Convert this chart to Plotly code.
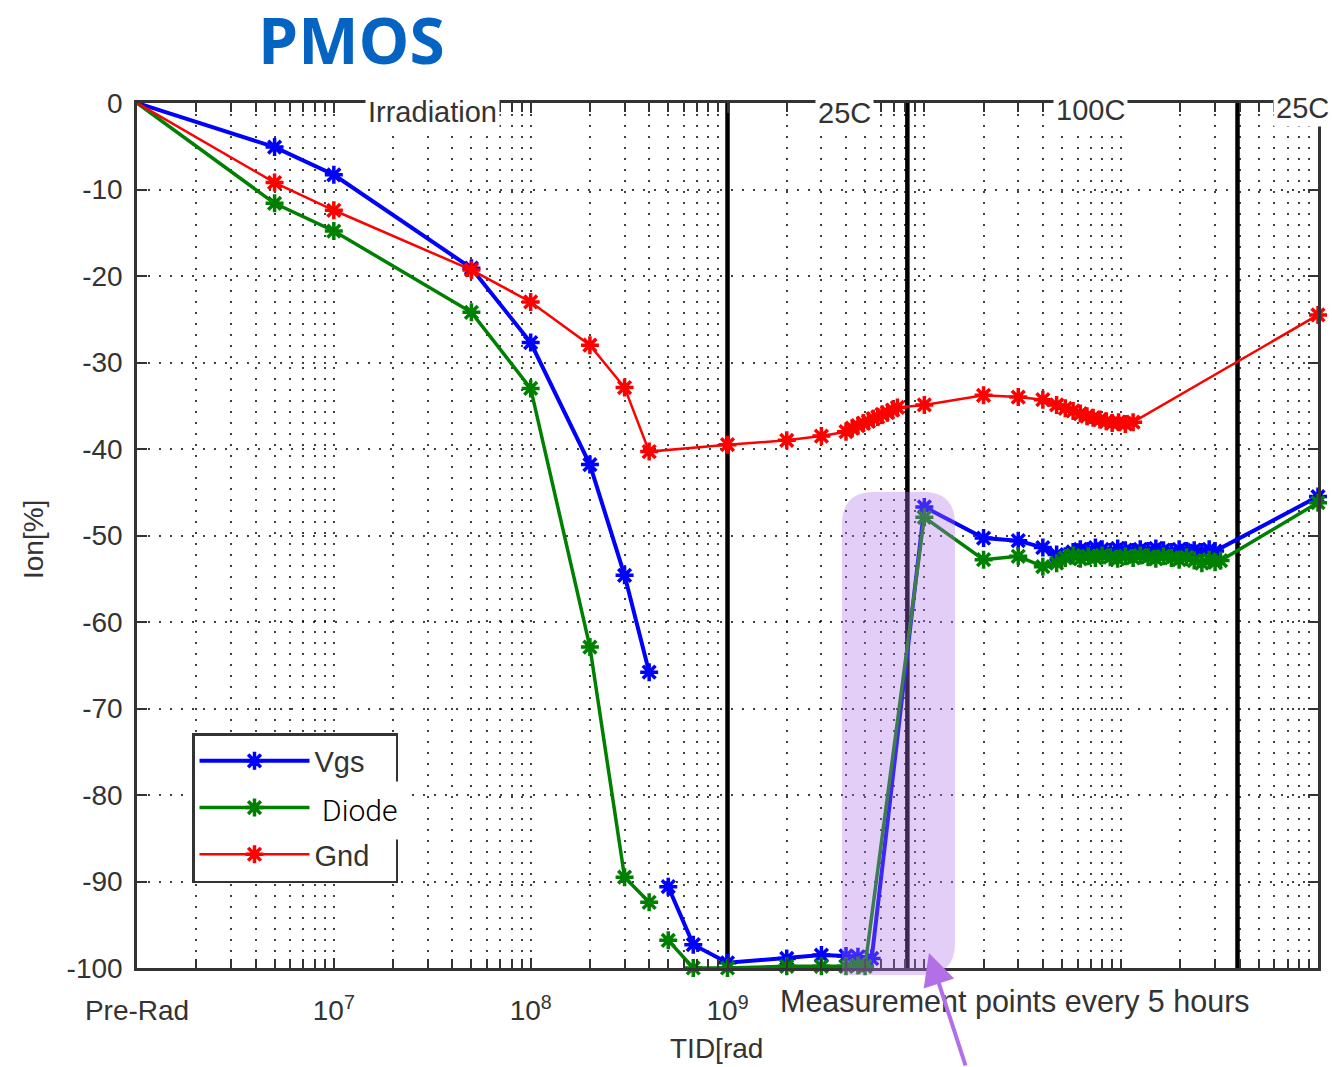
import plotly.graph_objects as go

# ---------------- data ----------------
vgs_x = [1e6, 5e6, 1e7, 5e7, 1e8, 2e8, 3e8, 4e8, None, 5e8, 6.7e8, 1e9,
         2e9, 3e9, 4e9, 4.6e9, 5.4e9,
         1e10, 2e10, 3e10, 4e10,
         4.7e10, 5.2e10, 5.7e10, 6.2e10, 6.8e10, 7.4e10, 8e10, 8.8e10, 9.6e10,
         1.05e11, 1.15e11, 1.25e11, 1.37e11, 1.5e11, 1.64e11, 1.8e11, 1.97e11,
         2.15e11, 2.35e11, 2.57e11, 2.8e11, 3e11,
         1e12]
vgs_y = [0, -5.1, -8.3, -19.1, -27.7, -41.8, -54.6, -65.8, None, -90.6, -97.3, -99.4,
         -98.9, -98.5, -98.6, -98.7, -98.9,
         -46.7, -50.3, -50.6, -51.4,
         -52.2, -52.4, -51.9, -51.6, -51.8, -51.4, -51.6, -51.9, -51.5,
         -51.7, -51.9, -51.6, -51.8, -51.5, -51.7, -51.9, -51.6,
         -51.8, -51.7, -51.9, -51.6, -51.8,
         -45.5]

diode_x = [1e6, 5e6, 1e7, 5e7, 1e8, 2e8, 3e8, 4e8, None, 5e8, 6.7e8, 1e9,
           2e9, 3e9, 4e9, 4.6e9, 5e9,
           1e10, 2e10, 3e10, 4e10,
           4.7e10, 5.2e10, 5.7e10, 6.2e10, 6.8e10, 7.4e10, 8e10, 8.8e10, 9.6e10,
           1.05e11, 1.15e11, 1.25e11, 1.37e11, 1.5e11, 1.64e11, 1.8e11, 1.97e11,
           2.15e11, 2.35e11, 2.57e11, 2.8e11, 3e11, 3.2e11,
           1e12]
diode_y = [0, -11.6, -14.8, -24.2, -33.0, -62.9, -89.5, -92.4, None, -96.8, -100, -100,
           -99.8, -99.8, -99.8, -99.7, -99.8,
           -47.9, -52.8, -52.4, -53.6,
           -53.2, -52.6, -52.3, -52.7, -52.4, -52.6, -52.3, -52.5, -52.7,
           -52.4, -52.6, -52.3, -52.5, -52.7, -52.4, -52.6, -52.8,
           -52.5, -52.9, -53.2, -52.8, -53.1, -52.9,
           -46.2]

gnd_x = [1e6, 5e6, 1e7, 5e7, 1e8, 2e8, 3e8, 4e8, 1e9,
         2e9, 3e9, 4e9, 4.3e9, 4.6e9, 4.9e9, 5.2e9, 5.5e9, 5.8e9, 6.1e9, 6.5e9, 6.9e9, 7.3e9,
         1e10, 2e10, 3e10, 4e10,
         4.7e10, 5.2e10, 5.7e10, 6.2e10, 6.7e10, 7.2e10, 7.8e10, 8.4e10, 9e10, 9.7e10, 1.05e11, 1.15e11,
         1e12]
gnd_y = [0, -9.2, -12.4, -19.3, -23.0, -28.0, -32.9, -40.3, -39.5,
         -39.0, -38.5, -38.0, -37.6, -37.3, -37.0, -36.8, -36.5, -36.3, -36.0, -35.8, -35.5, -35.2,
         -34.9, -33.8, -34.0, -34.3,
         -34.9, -35.3, -35.6, -35.9, -36.2, -36.4, -36.6, -36.8, -37.0, -36.9, -37.1, -36.9,
         -24.5]

phase_bounds = [1e9, 8.2e9, 3.9e11]
phase_labels = ["Irradiation", "25C", "100C", "25C"]

x_tickvals = [1e6, 1e7, 1e8, 1e9]
x_ticktext = ["Pre-Rad", "10<sup>7</sup>", "10<sup>8</sup>", "10<sup>9</sup>"]
y_tickvals = [0, -10, -20, -30, -40, -50, -60, -70, -80, -90, -100]
y_ticktext = ["0", "-10", "-20", "-30", "-40", "-50", "-60", "-70", "-80", "-90", "-100"]

minor_x = [k * 10 ** e for e in range(6, 12) for k in range(2, 10)] + [1e10, 1e11]

# ---------------- figure ----------------
W, H = 1332, 1067
L, R, T, B = 137, 14, 103, 99
PW, PH = W - L - R, H - T - B


def px(xp):
    return (xp - L) / PW


def py(yp):
    return (H - B - yp) / PH


AXFONT = "Liberation Sans"
TXT = "#333"
fig = go.Figure()

# phase boundary lines
bx, by = [], []
for b in phase_bounds:
    bx += [b, b, None]
    by += [-100, 0, None]
fig.add_trace(go.Scatter(x=bx, y=by, mode="lines", line=dict(color="black", width=4.5),
                         showlegend=False, hoverinfo="skip"))

series = [
    ("Vgs", vgs_x, vgs_y, "#0000FF", 4),
    ("Diode", diode_x, diode_y, "#008000", 3.5),
    ("Gnd", gnd_x, gnd_y, "#FF0000", 2.5),
]
for name, xs, ys, col, lw in series:
    fig.add_trace(go.Scatter(
        x=xs, y=ys, name=name, mode="lines+markers",
        line=dict(color=col, width=lw),
        marker=dict(symbol="asterisk-open", size=15, color=col, line=dict(color=col, width=3.5)),
        cliponaxis=False, legendgroup=name,
    ))

grid = dict(gridcolor="rgba(0,0,0,0.75)", gridwidth=1.5, griddash="2px,9px")

fig.update_xaxes(
    type="log", range=[6, 12],
    tickmode="array", tickvals=x_tickvals, ticktext=x_ticktext,
    ticks="inside", ticklen=10, tickwidth=1.5, tickcolor=TXT,
    showline=True, linecolor=TXT, linewidth=2.5, mirror="ticks",
    showgrid=True, **grid,
    tickfont=dict(family=AXFONT, size=28, color=TXT),
    ticklabelstandoff=16,
    minor=dict(tickmode="array", tickvals=minor_x, ticks="inside", ticklen=9,
               tickwidth=1.5, tickcolor=TXT, showgrid=True, **grid),
    zeroline=False,
)
fig.update_yaxes(
    range=[-100, 0], tickmode="array", tickvals=y_tickvals, ticktext=y_ticktext,
    ticks="inside", ticklen=10, tickwidth=1.5, tickcolor=TXT,
    showline=True, linecolor=TXT, linewidth=2.5, mirror="ticks",
    showgrid=True, **grid,
    tickfont=dict(family=AXFONT, size=28, color=TXT),
    ticklabelstandoff=6, zeroline=False,
)


def note(text, xp, yp, size=28, family=AXFONT, color=TXT, **kw):
    d = dict(text=text, x=px(xp), y=py(yp), xref="paper", yref="paper",
             xanchor="center", yanchor="middle", showarrow=False,
             font=dict(family=family, size=size, color=color))
    d.update(kw)
    return d


annotations = []
annotations.append(note("<b>PMOS</b>", 351, 39, size=64, family="Open Sans", color="#0563C1"))
label_pos = [(432, 112), (844, 113), (1090, 110), (1302, 108)]
for txt, (lx, ly) in zip(phase_labels, label_pos):
    annotations.append(note(txt, lx, ly, size=29, bgcolor="white", borderpad=2))
annotations.append(note("Ion[%]", 33, 540, textangle=-90))
annotations.append(note("TID[rad", 716, 1048))
annotations.append(note("Measurement points every 5 hours", 1015, 1001, size=30.5))
annotations.append(dict(text="Diode", x=px(359), y=py(810), xref="paper", yref="paper",
                        xanchor="center", yanchor="middle", showarrow=False,
                        bgcolor="white", borderpad=11,
                        font=dict(family="Roboto", size=30, color="black", weight=300)))
# arrow
annotations.append(dict(text="", x=px(929), y=py(953), xref="paper", yref="paper",
                        showarrow=True, ax=37, ay=116, arrowhead=2, arrowsize=1.6,
                        arrowwidth=4, arrowcolor="#B36FE6"))

# rounded highlight rectangle
x0, x1, y0, y1, r = 842, 955, 492, 975, 32
path = (f"M {px(x0)},{py(y1)} L {px(x0)},{py(y0 + r)} "
        f"Q {px(x0)},{py(y0)} {px(x0 + r)},{py(y0)} "
        f"L {px(x1 - r)},{py(y0)} Q {px(x1)},{py(y0)} {px(x1)},{py(y0 + r)} "
        f"L {px(x1)},{py(y1 - r)} Q {px(x1)},{py(y1)} {px(x1 - r)},{py(y1)} Z")
shapes = [dict(type="path", path=path, xref="paper", yref="paper",
               fillcolor="rgba(174,116,232,0.35)", line=dict(width=0), layer="above")]

fig.update_layout(
    width=W, height=H, margin=dict(l=L, r=R, t=T, b=B),
    paper_bgcolor="white", plot_bgcolor="white",
    annotations=annotations, shapes=shapes,
    legend=dict(x=px(192), y=py(733), xanchor="left", yanchor="top",
                bgcolor="white", bordercolor=TXT, borderwidth=2.5,
                font=dict(family=AXFONT, size=29, color=TXT),
                itemwidth=110, tracegroupgap=6, itemclick=False),
    showlegend=True,
)

fig.write_html("out.html")
